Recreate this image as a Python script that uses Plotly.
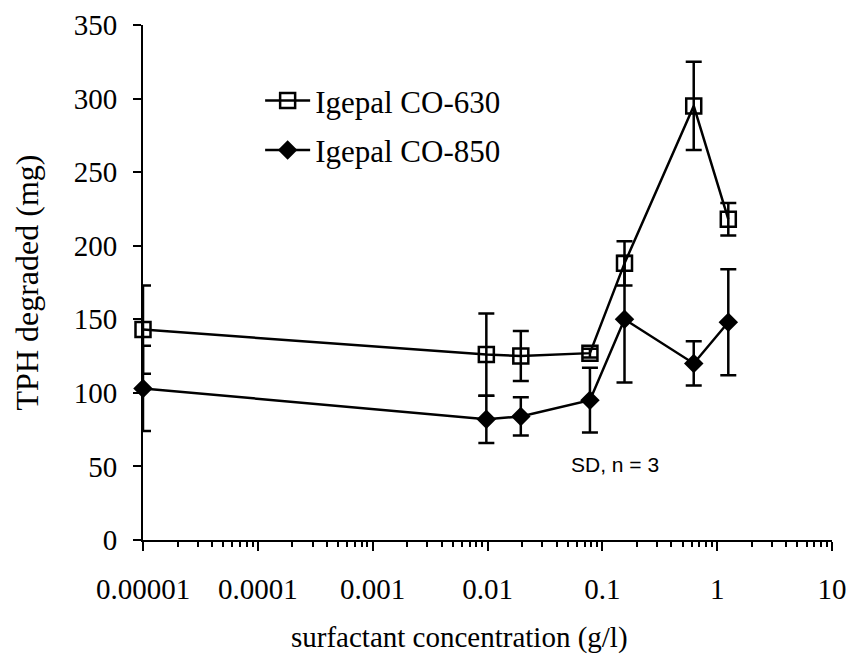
import plotly.graph_objects as go

# surfactant concentration (g/l); control plotted at 0.00001
conc = [0.00001, 0.00977, 0.0195, 0.078, 0.156, 0.625, 1.25]

co630 = [143, 126, 125, 127, 188, 295, 218]
co630_sd = [30, 28, 17, 3, 15, 30, 11]

co850 = [103, 82, 84, 95, 150, 120, 148]
co850_sd = [29, 16, 13, 22, 43, 15, 36]

x_tick_vals = [0.00001, 0.0001, 0.001, 0.01, 0.1, 1, 10]
x_tick_text = ["0.00001", "0.0001", "0.001", "0.01", "0.1", "1", "10"]
y_tick_vals = [0, 50, 100, 150, 200, 250, 300, 350]
x_minor_vals = [m * d for d in x_tick_vals[:-1] for m in range(2, 10)]

FONT = "Liberation Serif"

fig = go.Figure()
fig.add_trace(go.Scatter(
    x=conc, y=co630, name="Igepal CO-630", legendgroup="a",
    mode="lines+markers",
    line=dict(color="black", width=2.5),
    marker=dict(symbol="square-open", size=15, color="black", line=dict(width=2.5)),
    error_y=dict(type="data", array=co630_sd, visible=True, color="black", thickness=2.5, width=8),
    cliponaxis=False,
))
fig.add_trace(go.Scatter(
    x=conc, y=co850, name="Igepal CO-850", legendgroup="b",
    mode="lines+markers",
    line=dict(color="black", width=2.5),
    marker=dict(symbol="diamond", size=15, color="black"),
    error_y=dict(type="data", array=co850_sd, visible=True, color="black", thickness=2.5, width=8),
    cliponaxis=False,
))

fig.add_annotation(
    x=0.685, y=0.147, xref="paper", yref="paper", text="SD, n = 3",
    showarrow=False, font=dict(family="Liberation Sans", size=21, color="black"),
    xanchor="center", yanchor="middle",
)
fig.add_annotation(
    x=0.46, y=-0.19, xref="paper", yref="paper", text="surfactant concentration (g/l)",
    showarrow=False, font=dict(family=FONT, size=29, color="black"),
    xanchor="center", yanchor="middle",
)

fig.update_layout(
    width=852, height=659,
    margin=dict(l=143, r=20, t=25, b=119),
    paper_bgcolor="white", plot_bgcolor="white",
    font=dict(family=FONT, size=29, color="black"),
    showlegend=True,
    legend=dict(
        x=0.17, y=0.905, xanchor="left", yanchor="top",
        bgcolor="rgba(0,0,0,0)", font=dict(family=FONT, size=31, color="black"),
        traceorder="grouped", tracegroupgap=6, itemwidth=45,
    ),
    xaxis=dict(
        type="log", range=[-5, 1], automargin=False,
        tickvals=x_tick_vals, ticktext=x_tick_text,
        ticks="outside", ticklen=9, tickwidth=2, tickcolor="black",
        showline=True, linewidth=2, linecolor="black",
        showgrid=False, zeroline=False,
        ticklabelstandoff=13,
        tickfont=dict(family=FONT, size=29, color="black"),
        minor=dict(tickmode="array", tickvals=x_minor_vals, ticks="outside",
                   ticklen=5, tickwidth=1.5, tickcolor="black", showgrid=False),
    ),
    yaxis=dict(
        range=[0, 350], tickvals=y_tick_vals, automargin=False,
        ticks="outside", ticklen=8, tickwidth=2, tickcolor="black",
        showline=True, linewidth=2, linecolor="black",
        showgrid=False, zeroline=False,
        ticklabelstandoff=10,
        tickfont=dict(family=FONT, size=29, color="black"),
        title=dict(text="TPH degraded (mg)",
                   font=dict(family=FONT, size=32, color="black"), standoff=26),
    ),
)

fig.write_html("out.html")
